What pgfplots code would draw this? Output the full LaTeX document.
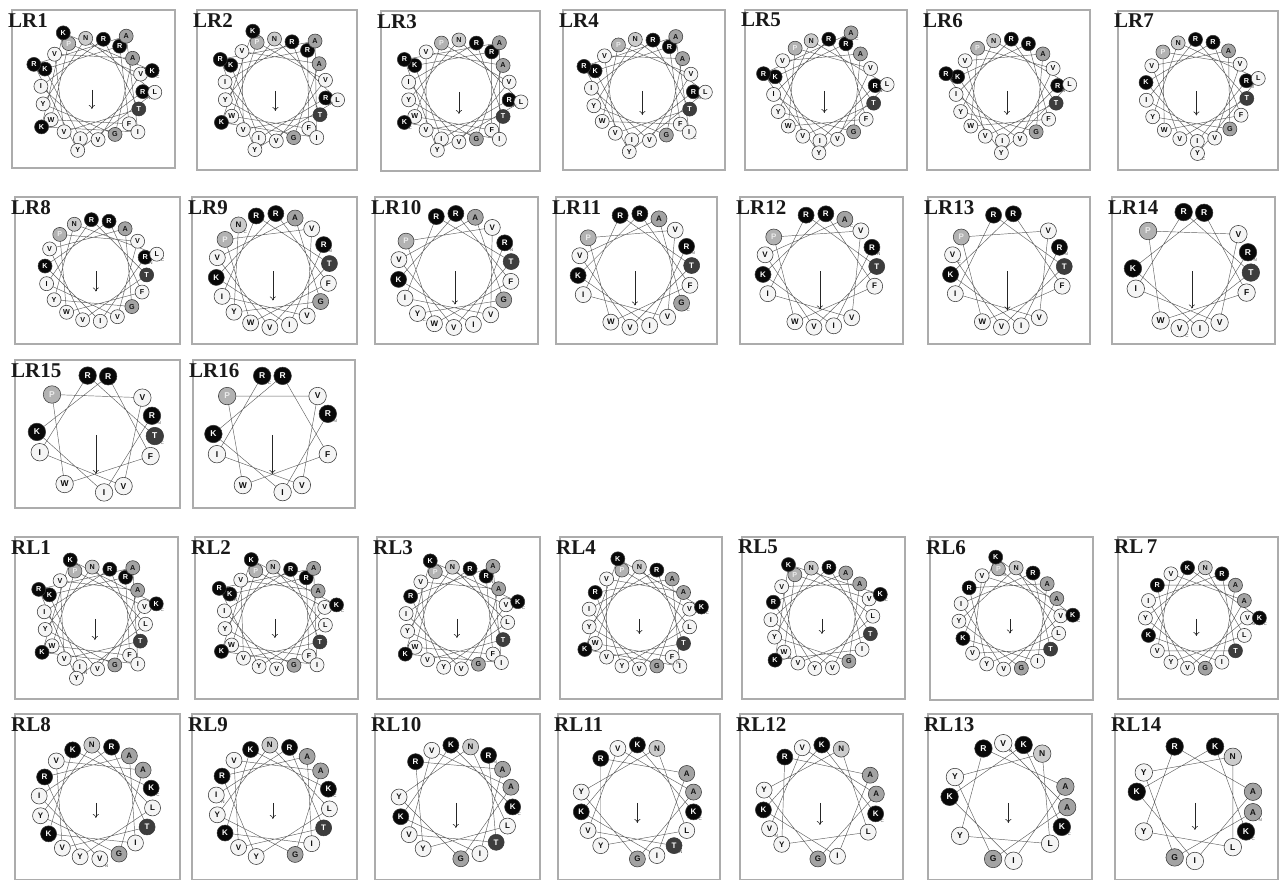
\documentclass[border=0pt]{standalone}
\usepackage{pgfplots}
\pgfplotsset{compat=1.18}
\usepackage{pgfplotstable}
\usepackage{fontspec}
\setmainfont{Liberation Serif}
\newfontfamily\resfont{Liberation Sans}
\usetikzlibrary{arrows.meta}

% fill colours by residue class
\definecolor{c0}{gray}{0.96}% hydrophobic
\definecolor{c1}{gray}{0.03}% K R
\definecolor{c2}{gray}{0.24}% T
\definecolor{c3}{gray}{0.70}% P
\definecolor{c4}{gray}{0.64}% A G
\definecolor{c5}{gray}{0.80}% N
\definecolor{t0}{gray}{0.05}
\definecolor{t1}{gray}{1}
\definecolor{t2}{gray}{1}
\definecolor{t3}{gray}{0.92}
\definecolor{t4}{gray}{0.08}
\definecolor{t5}{gray}{0.08}

% peptide RIKRFWPVVIRTVVAGYNLYRAIKKK, m = position, rel = wheel angle (100 deg per residue)
\pgfplotstableread{
m rel lab cls
0 0 R 1
1 100 I 0
2 200 K 1
3 300 R 1
4 40 F 0
5 140 W 0
6 240 P 3
7 340 V 0
8 80 V 0
9 180 I 0
10 280 R 1
11 20 T 2
12 120 V 0
13 220 V 0
14 320 A 4
15 60 G 4
16 160 Y 0
17 260 N 5
18 0 L 0
19 100 Y 0
20 200 R 1
21 300 A 4
22 40 I 0
23 140 K 1
24 240 K 1
25 340 K 1
}\seqtab

\def\cyf{0.5}
\def\wx{(\thisrow{m}-\wkA>17 ? \wro : \wri)*sin(\wpsi+\thisrow{rel})}
\def\wy{(\thisrow{m}-\wkA>17 ? \wro : \wri)*cos(\wpsi+\thisrow{rel})}
\newcommand\setw[4]{\def\wkA{#1}\def\wkB{#2}\def\wpsi{#3}\def\walen{#4}}
% #1 class, #2 outer flag
\newcommand\resplot[2]{%
  \addplot[draw=none, mark=none, point meta=explicit symbolic,
    restrict expr to domain={(\thisrow{m}>=\wkA)*(\thisrow{m}<=\wkB)*(\thisrow{cls}==#1)*((\thisrow{m}-\wkA>17)==#2)}{0.5:1.5},
    nodes near coords,
    nodes near coords style={anchor=center, circle, draw=gray!45!black, line width=0.55pt,
      fill=c#1, text=t#1, minimum size=\wns, inner sep=0pt,
      font=\resfont\bfseries\fontsize{\wfs}{\wfs}\selectfont}]
    table[meta=lab, x expr={\wx}, y expr={\wy}] {\seqtab};}
% terminus marks: #1 index, #2 letter
\newcommand\termplot[2]{%
  \addplot[draw=none, mark=none, point meta=explicit symbolic,
    restrict expr to domain={\thisrow{m}}{#1:#1},
    nodes near coords={#2},
    nodes near coords style={anchor=center, inner sep=0pt, text=gray!60!black,
      xshift=0.42*\wns, yshift=-0.42*\wns, font=\resfont\fontsize{4.5}{4.5}\selectfont}]
    table[x expr={\wx}, y expr={\wy}] {\seqtab};}
\newcommand\panel[5]{%
  \pgfmathsetmacro\cxv{0.49*#3}%
  \pgfmathsetmacro\xmx{#3-\cxv}%
  \pgfmathsetmacro\cyv{\cyf*#4}%
  \pgfmathsetmacro\ymn{\cyv-#4}%
  \pgfmathtruncatemacro\nres{\wkB-\wkA+1}%
  \ifnum\nres>18 \def\wri{51}\def\wro{63}\def\wns{14pt}\def\wfs{7.2}\else
    \ifnum\nres>13 \def\wri{57}\def\wro{57}\def\wns{16pt}\def\wfs{8}\else
      \def\wri{59}\def\wro{59}\def\wns{17.5pt}\def\wfs{8.5}\fi\fi
  \begin{axis}[at={(#1pt,880pt-#2pt)}, anchor=north west,
    scale only axis, width=#3pt, height=#4pt,
    xmin=-\cxv, xmax=\xmx, ymin=\ymn, ymax=\cyv,
    xtick=\empty, ytick=\empty,
    axis line style={draw=gray!65, line width=1.1pt},
    clip=false]
  \addplot[draw=gray!75!black, line width=0.45pt, mark=none,
    restrict expr to domain={\thisrow{m}}{\wkA:\wkB}]
    table[x expr={\wx}, y expr={\wy}] {\seqtab};
  \resplot{0}{0}\resplot{1}{0}\resplot{2}{0}\resplot{3}{0}\resplot{4}{0}\resplot{5}{0}
  \resplot{0}{1}\resplot{1}{1}\resplot{4}{1}
  \termplot{\wkA}{N}\termplot{\wkB}{C}
  \edef\temp{\noexpand\addplot[black!85, line width=0.6pt, mark=none,
    -{To[length=4pt,width=6pt]}] coordinates {(0,-1) (0,-\walen)};}\temp
  \node[anchor=north west, inner sep=0pt, font=\bfseries\fontsize{21}{21}\selectfont, text=black!90]
    at (rel axis cs:0,1) [xshift=-4pt, yshift=-3pt] {#5};
  \end{axis}}

\begin{document}
\begin{tikzpicture}
\path[use as bounding box] (0,0) rectangle (1280pt,880pt);
% row 1
\setw{0}{25}{93}{20}\panel{12}{10}{163}{158}{LR1}
\setw{0}{24}{99}{21}\panel{197}{10}{160}{160}{LR2}
\setw{0}{23}{100}{23}\panel{381}{11}{159}{160}{LR3}
\setw{0}{22}{92}{25}\panel{563}{10}{162}{160}{LR4}
\setw{0}{21}{85}{23}\panel{745}{10}{162}{160}{LR5}
\setw{0}{20}{85}{25}\panel{927}{10}{163}{160}{LR6}
\setw{0}{19}{79}{25}\panel{1118}{11}{160}{159}{LR7}
% row 2
\setw{0}{18}{75}{21}\panel{15}{197}{165}{147}{LR8}
\setw{0}{17}{63}{30}\panel{192}{197}{165}{147}{LR9}
\setw{0}{16}{61}{34}\panel{375}{197}{163}{147}{LR10}
\setw{0}{15}{65}{35}\panel{556}{197}{161}{147}{LR11}
\setw{0}{14}{66}{39}\panel{740}{197}{163}{147}{LR12}
\setw{0}{13}{66}{40}\panel{928}{197}{162}{147}{LR13}
\setw{0}{12}{72}{38}\panel{1112}{197}{163}{147}{LR14}
% row 3
\setw{0}{11}{72}{40}\panel{15}{360}{165}{148}{LR15}
\setw{0}{10}{70}{40}\panel{193}{360}{162}{148}{LR16}
% row 4
\setw{1}{25}{97}{22}\panel{15}{537}{163}{162}{RL1}
\setw{2}{25}{98}{20}\panel{195}{537}{163}{162}{RL2}
\setw{3}{25}{95}{20}\panel{377}{537}{163}{162}{RL3}
\setw{4}{25}{100}{16}\panel{560}{537}{162}{162}{RL4}
\setw{5}{25}{88}{16}\panel{742}{537}{163}{162}{RL5}
\setw{6}{25}{107}{15}\panel{930}{537}{163}{163}{RL6}
\setw{7}{25}{110}{18}\panel{1118}{537}{160}{162}{RL\,7}
% row 5
\def\cyf{0.53}
\setw{8}{25}{96}{16}\panel{15}{714}{165}{166}{RL8}
\setw{9}{25}{97}{17}\panel{192}{714}{165}{166}{RL9}
\setw{10}{25}{115}{26}\panel{375}{714}{165}{166}{RL10}
\setw{11}{25}{120}{21}\panel{558}{714}{162}{166}{RL11}
\setw{12}{25}{122}{23}\panel{740}{714}{163}{166}{RL12}
\setw{13}{25}{135}{21}\panel{928}{714}{164}{166}{RL13}
\setw{14}{25}{140}{28}\panel{1115}{714}{163}{166}{RL14}
\end{tikzpicture}
\end{document}
